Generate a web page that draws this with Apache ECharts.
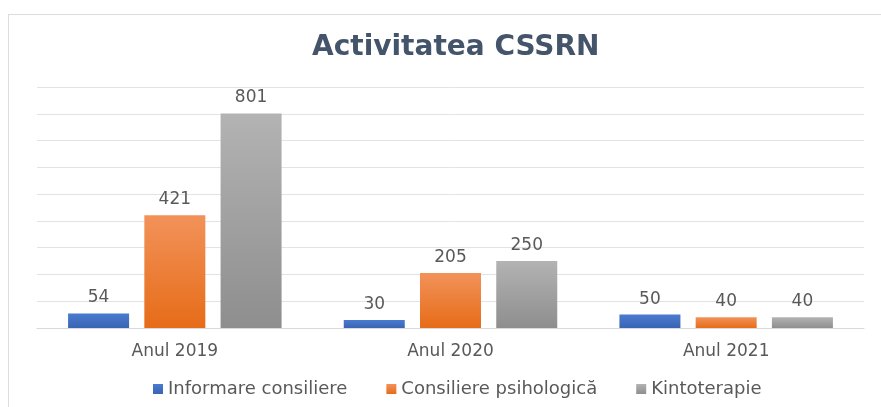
<!DOCTYPE html>
<html>
<head>
<meta charset="utf-8">
<script src="https://cdn.jsdelivr.net/npm/echarts@6/dist/echarts.min.js"></script>
<style>
  html, body { margin: 0; padding: 0; background: #fff; }
  #frame {
    position: absolute; left: 8px; top: 14px; width: 873px; height: 393px;
    border-left: 1px solid #dcdcdc; border-top: 1px solid #dcdcdc;
  }
  #chart { position: absolute; left: 0; top: 0; width: 881px; height: 407px; }
</style>
</head>
<body>
<div id="frame"></div>
<div id="chart"></div>
<script>
  // date din grafic
  var categories = ['Anul 2019', 'Anul 2020', 'Anul 2021']
  var seriesNames = ['Informare consiliere', 'Consiliere psihologică', 'Kintoterapie']
  var informare = [54, 30, 50]
  var consiliere = [421, 205, 40]
  var kinto = [801, 250, 40]

  var textColor = '#595959'
  var font = 'DejaVu Sans'

  function grad(top, bottom) {
    return new echarts.graphic.LinearGradient(0, 0, 0, 1, [
      { offset: 0, color: top },
      { offset: 1, color: bottom }
    ])
  }

  function bar(name, data, top, bottom) {
    return {
      name: name,
      type: 'bar',
      data: data,
      barWidth: 61,
      barGap: '25%',
      itemStyle: { color: grad(top, bottom) },
      label: {
        show: true,
        position: 'top',
        distance: 7,
        color: textColor,
        fontFamily: font,
        fontSize: 17
      }
    }
  }

  var chart = echarts.init(document.getElementById('chart'))
  chart.setOption({
    animation: false,
    title: {
      text: 'Activitatea CSSRN',
      left: 307,
      top: 29,
      textStyle: {
        color: '#44546a',
        fontFamily: font,
        fontSize: 28,
        fontWeight: 'bold'
      }
    },
    color: ['#4472c4', '#ed7d31', '#a5a5a5'],
    legend: {
      data: seriesNames,
      left: 148,
      top: 375,
      icon: 'rect',
      itemWidth: 10,
      itemHeight: 10,
      itemGap: 39,
      textStyle: {
        color: textColor,
        fontFamily: font,
        fontSize: 18
      }
    },
    grid: {
      left: 37,
      right: 17,
      top: 87,
      bottom: 79
    },
    xAxis: {
      type: 'category',
      data: categories,
      axisTick: { show: false },
      axisLine: { lineStyle: { color: '#d9d9d9' } },
      axisLabel: {
        color: textColor,
        fontFamily: font,
        fontSize: 17,
        margin: 15
      }
    },
    yAxis: {
      type: 'value',
      min: 0,
      max: 900,
      interval: 100,
      axisLabel: { show: false },
      axisLine: { show: false },
      axisTick: { show: false },
      splitLine: { lineStyle: { color: '#e3e3e3' } }
    },
    series: [
      bar(seriesNames[0], informare, '#4a7bd0', '#3a64b4'),
      bar(seriesNames[1], consiliere, '#f2925a', '#e66c18'),
      bar(seriesNames[2], kinto, '#b3b3b3', '#8e8e8e')
    ]
  })
</script>
</body>
</html>
